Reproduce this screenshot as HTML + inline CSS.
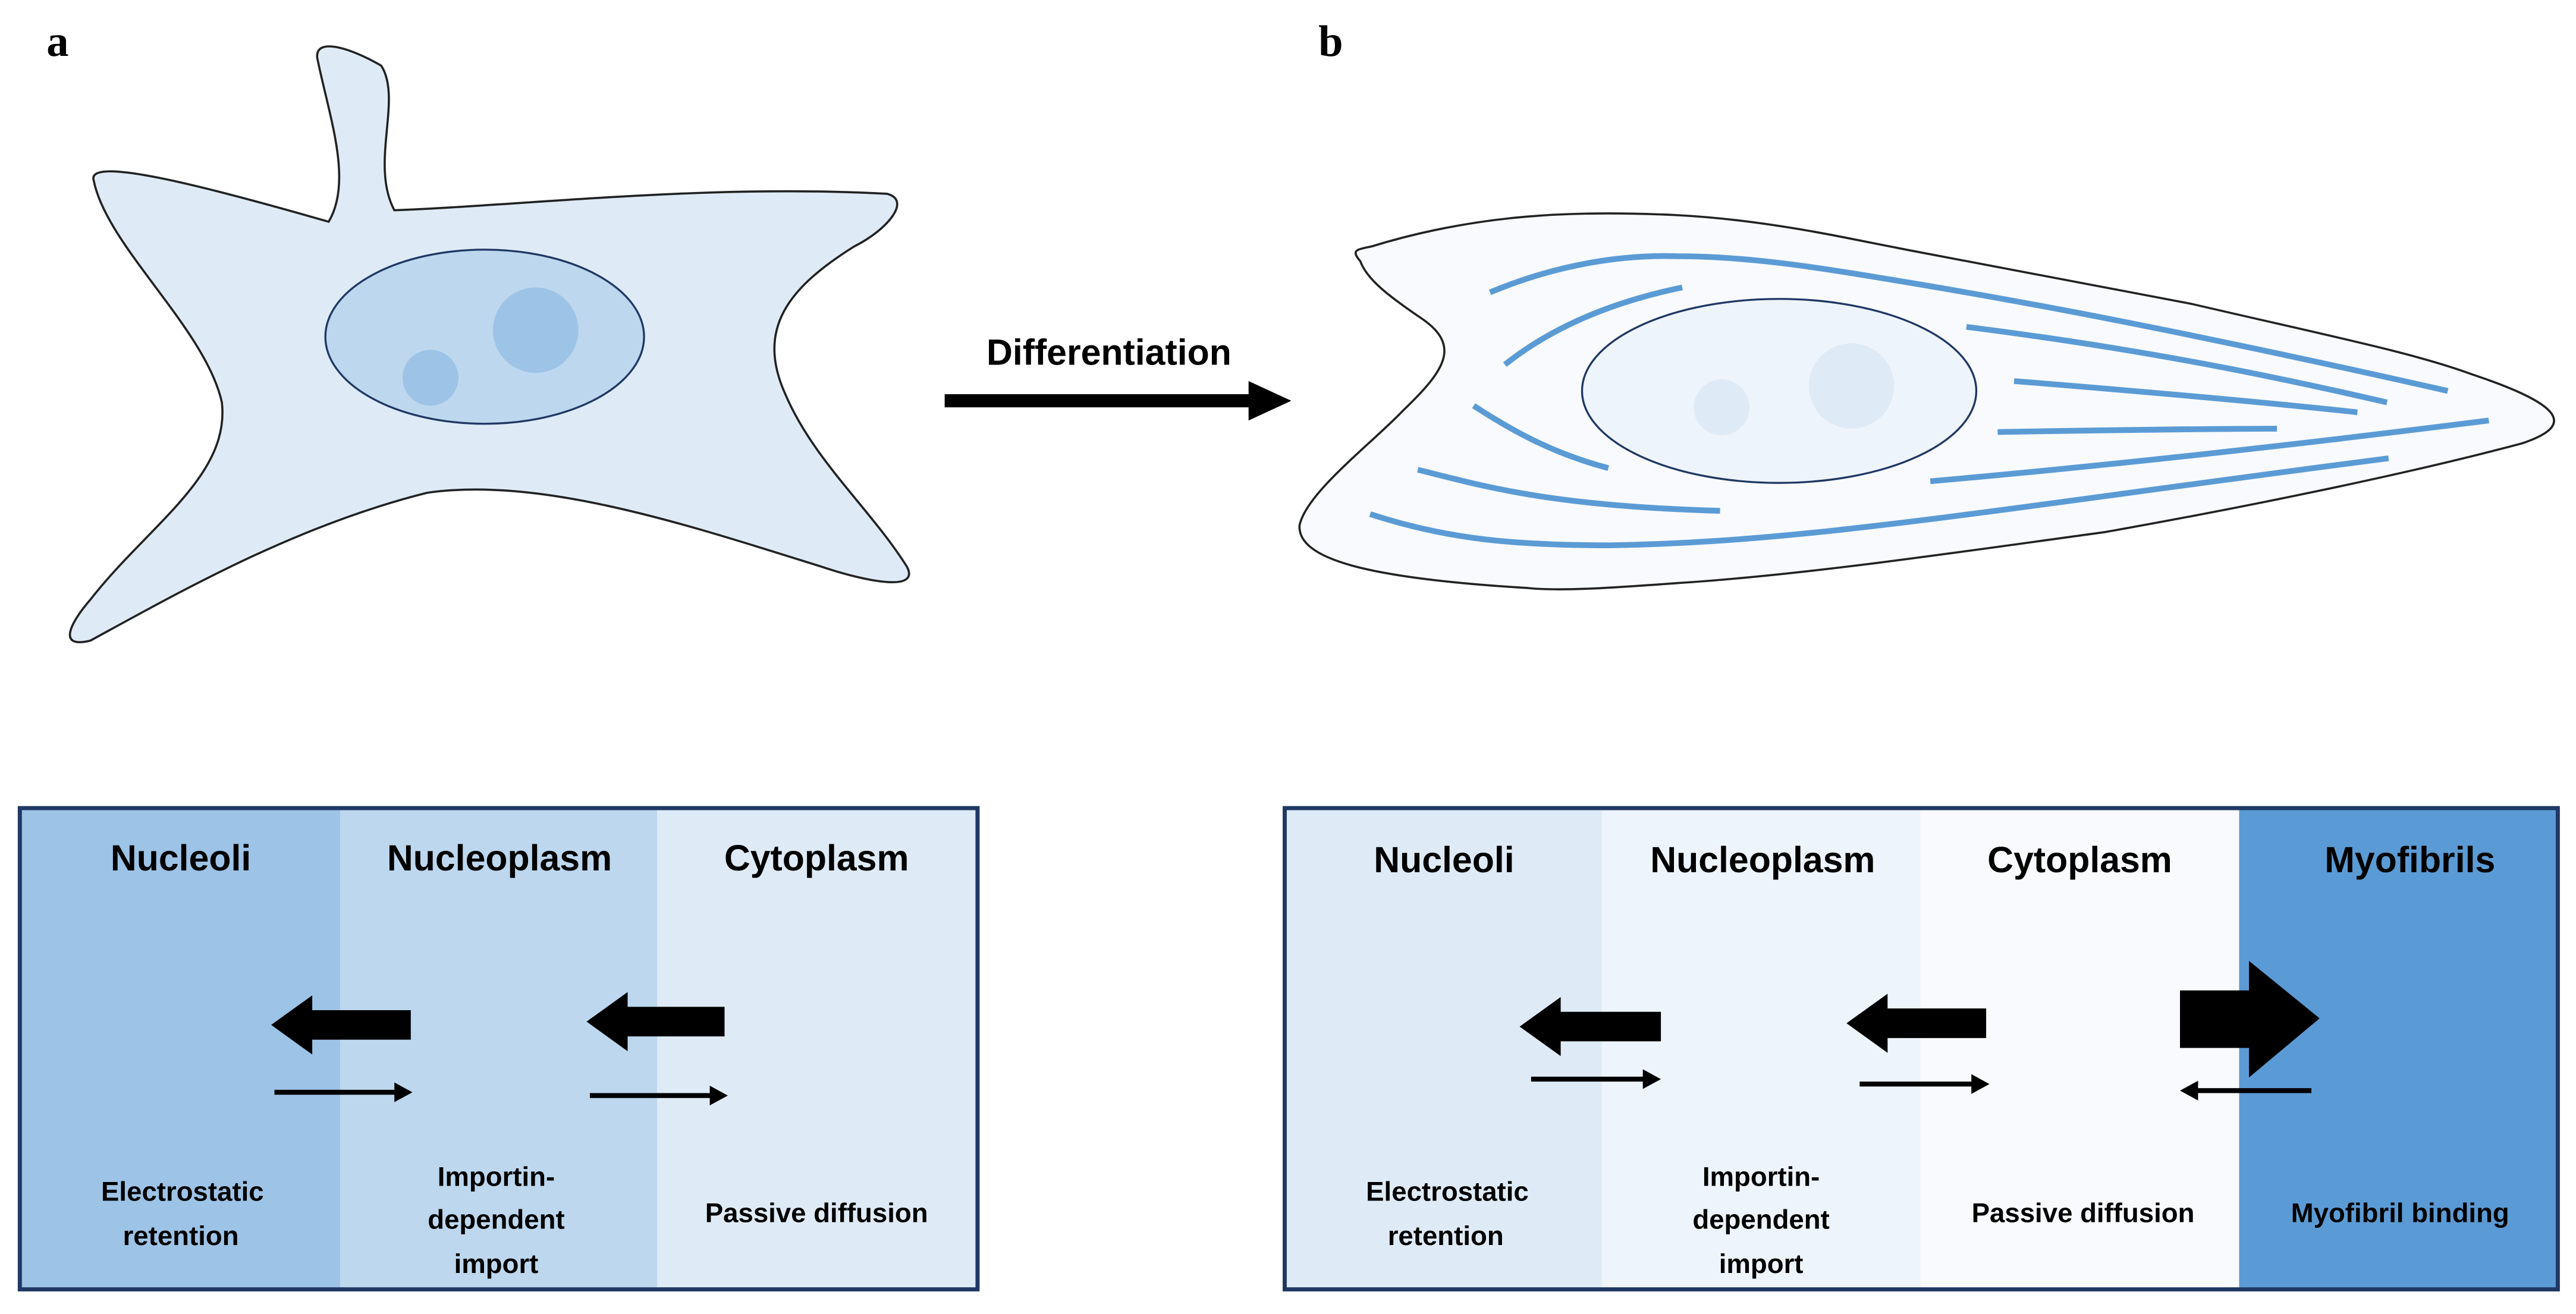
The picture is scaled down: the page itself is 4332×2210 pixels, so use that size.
<!DOCTYPE html>
<html><head><meta charset="utf-8"><style>
html,body{margin:0;padding:0;background:#fff;}
svg{display:block;}
.h{font-family:"Liberation Sans",sans-serif;font-weight:bold;font-size:22px;text-anchor:middle;fill:#000;}
.s{font-family:"Liberation Sans",sans-serif;font-weight:bold;font-size:16.5px;text-anchor:middle;fill:#000;}
</style></head><body>
<svg width="4332" height="2210" viewBox="0 0 1568 800" xmlns="http://www.w3.org/2000/svg">
<rect width="1568" height="800" fill="#fff"/>
<text x="35" y="34" font-family="Liberation Serif,serif" font-weight="bold" font-size="27" text-anchor="middle">a</text>
<text x="810" y="34" font-family="Liberation Serif,serif" font-weight="bold" font-size="27" text-anchor="middle">b</text>

<!-- cell a -->
<path d="M57,110 C52,95 120,112 200,135 C215,110 200,70 193,35 C192,22 215,30 232,40 C245,60 225,100 240,128 C320,125 430,112 540,118 C555,122 540,140 520,150 C480,175 460,200 478,240 C495,280 530,310 552,345 C560,360 530,355 500,345 C420,320 330,290 260,300 C180,320 110,360 55,390 C35,395 42,380 55,365 C90,320 140,290 135,245 C125,200 65,150 57,110 Z" fill="#deebf7" stroke="#222" stroke-width="1.3"/>
<ellipse cx="295" cy="205" rx="97" ry="53" fill="#bdd7ee" stroke="#1f3864" stroke-width="1.2"/>
<circle cx="326" cy="201" r="26" fill="#9dc3e6"/>
<circle cx="262" cy="230" r="17" fill="#9dc3e6"/>

<!-- differentiation arrow -->
<text x="675" y="222" font-family="Liberation Sans,sans-serif" font-weight="bold" font-size="22" text-anchor="middle">Differentiation</text>
<rect x="575" y="240" width="190" height="8" fill="#000"/>
<polygon points="760,232 786,244 760,256" fill="#000"/>

<!-- cell b -->
<path d="M828,159 C822,152 826,152 835,150 C900,130 960,128 1021,131 C1060,133 1100,140 1125,145 C1200,160 1280,175 1334,185 C1420,205 1470,215 1505,228 C1565,248 1565,260 1535,270 C1460,290 1360,310 1281,324 C1200,335 1100,350 1021,355 C980,358 950,360 930,358 C830,352 790,340 791,320 C795,300 835,270 854,250 C880,225 890,210 864,193 C845,180 832,170 828,159 Z" fill="#f8fafd" stroke="#222" stroke-width="1.3"/>
<ellipse cx="1083" cy="238" rx="120" ry="56" fill="#eef4fb" stroke="#1f3864" stroke-width="1.2"/>
<circle cx="1127" cy="235" r="26" fill="#deebf7"/>
<circle cx="1048" cy="248" r="17" fill="#deebf7"/>
<g fill="none" stroke="#5b9bd5" stroke-width="3.5" stroke-linecap="butt">
<path d="M907,178 C950,160 990,155 1021,156 C1060,156 1100,162 1125,166 C1200,178 1300,195 1490,238"/>
<path d="M1024,175 C990,182 950,195 916,222"/>
<path d="M1197,199 C1300,212 1380,228 1453,245"/>
<path d="M1226,232 C1300,238 1380,245 1435,251"/>
<path d="M1216,263 C1280,262 1340,261 1386,261"/>
<path d="M1175,293 C1300,282 1420,268 1515,256"/>
<path d="M897,247 C920,262 945,276 979,285"/>
<path d="M863,286 C900,295 940,308 1047,311"/>
<path d="M834,313 C880,328 920,332 980,332 C1100,330 1200,312 1454,279"/>
</g>

<!-- box a -->
<rect x="12" y="492" width="195" height="293" fill="#9dc3e6"/>
<rect x="207" y="492" width="193" height="293" fill="#bdd7ee"/>
<rect x="400" y="492" width="195" height="293" fill="#deebf7"/>
<rect x="12" y="492" width="583" height="293" fill="none" stroke="#1f3864" stroke-width="2.5"/>
<text class="h" x="110" y="530">Nucleoli</text>
<text class="h" x="304" y="530">Nucleoplasm</text>
<text class="h" x="497" y="530">Cytoplasm</text>
<polygon points="165,624 190,606 190,615 250,615 250,633 190,633 190,642" fill="#000"/>
<polygon points="357,622 382,604 382,613 441,613 441,631 382,631 382,640" fill="#000"/>
<rect x="167" y="663.5" width="75" height="3" fill="#000"/>
<polygon points="240,659 251,665 240,671" fill="#000"/>
<rect x="359" y="665.5" width="75" height="3" fill="#000"/>
<polygon points="432,661 443,667 432,673" fill="#000"/>
<text class="s" x="111" y="731">Electrostatic</text>
<text class="s" x="110" y="758">retention</text>
<text class="s" x="302" y="722">Importin-</text>
<text class="s" x="302" y="748">dependent</text>
<text class="s" x="302" y="775">import</text>
<text class="s" x="497" y="744">Passive diffusion</text>

<!-- box b -->
<rect x="782" y="492" width="193" height="293" fill="#deebf7"/>
<rect x="975" y="492" width="194" height="293" fill="#eef4fb"/>
<rect x="1169" y="492" width="194" height="293" fill="#f8fafd"/>
<rect x="1363" y="492" width="194" height="293" fill="#5b9bd5"/>
<rect x="782" y="492" width="775" height="293" fill="none" stroke="#1f3864" stroke-width="2.5"/>
<text class="h" x="879" y="531">Nucleoli</text>
<text class="h" x="1073" y="531">Nucleoplasm</text>
<text class="h" x="1266" y="531">Cytoplasm</text>
<text class="h" x="1467" y="531">Myofibrils</text>
<polygon points="925,625 950,607 950,616 1011,616 1011,634 950,634 950,643" fill="#000"/>
<polygon points="1124,623 1149,605 1149,614 1209,614 1209,632 1149,632 1149,641" fill="#000"/>
<polygon points="1327,603 1369,603 1369,585 1412,620 1369,656 1369,638 1327,638" fill="#000"/>
<rect x="932" y="655.5" width="70" height="3" fill="#000"/>
<polygon points="1000,651 1011,657 1000,663" fill="#000"/>
<rect x="1132" y="658.5" width="70" height="3" fill="#000"/>
<polygon points="1200,654 1211,660 1200,666" fill="#000"/>
<rect x="1336" y="662.5" width="71" height="3" fill="#000"/>
<polygon points="1338,658 1327,664 1338,670" fill="#000"/>
<text class="s" x="881" y="731">Electrostatic</text>
<text class="s" x="880" y="758">retention</text>
<text class="s" x="1072" y="722">Importin-</text>
<text class="s" x="1072" y="748">dependent</text>
<text class="s" x="1072" y="775">import</text>
<text class="s" x="1268" y="744">Passive diffusion</text>
<text class="s" x="1461" y="744">Myofibril binding</text>
</svg>
</body></html>
